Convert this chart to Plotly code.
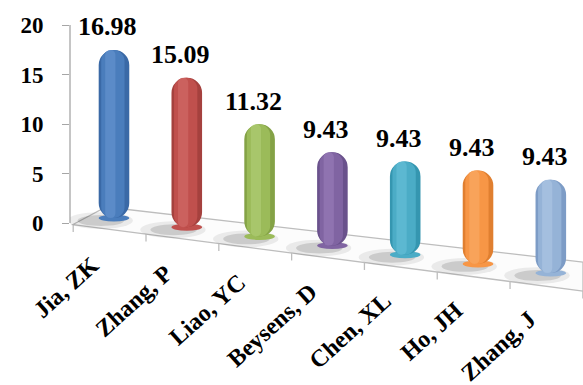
import plotly.graph_objects as go

# ---------------- data ----------------
authors = ["Jia, ZK", "Zhang, P", "Liao, YC", "Beysens, D", "Chen, XL", "Ho, JH", "Zhang, J"]
values = [16.98, 15.09, 11.32, 9.43, 9.43, 9.43, 9.43]
y_ticks = [0, 5, 10, 15, 20]

# ---------------- style ----------------
base_colors = ["#4A7DBC", "#C0504D", "#9BBB59", "#8064A2", "#4BACC6", "#F79646", "#95B3D7"]
dark_colors = ["#3A69A6", "#A5413E", "#84A246", "#6A528C", "#3596B0", "#E07F30", "#7D9CC6"]
light_colors = ["#6A98D2", "#D4706D", "#B3D07A", "#9A80BC", "#6CC2DA", "#FAAE6C", "#B0C8E6"]

FONT = "'Times New Roman', 'Liberation Serif', 'DejaVu Serif', serif"
n = len(values)
xs = list(range(n))

# pseudo-3D floor geometry (perspective slant)
BASE0 = 0.5
SLOPE = -0.926
bases = [BASE0 + SLOPE * i for i in xs]
FL = (-0.563, -0.15)   # front-left
BL = (-0.110, 1.62)    # back-left
BR = (6.442, -3.94)    # back-right
FR = (6.442, -6.87)    # front-right


def front_y(x):
    return FL[1] + (x - FL[0]) * (FR[1] - FL[1]) / (FR[0] - FL[0])


BAR_W = 0.42

fig = go.Figure()

# cylinder body (dark edges)
fig.add_trace(go.Bar(x=xs, y=values, base=bases, width=BAR_W,
                     marker=dict(color=dark_colors, cornerradius="50%", line_width=0),
                     hoverinfo="skip"))
# main colour
fig.add_trace(go.Bar(x=xs, y=values, base=bases, width=0.32, offset=-0.175,
                     marker=dict(color=base_colors, cornerradius="50%", line_width=0),
                     hoverinfo="skip"))
# soft highlight
fig.add_trace(go.Bar(x=xs, y=values, base=bases, width=0.14, offset=-0.12,
                     marker=dict(color=light_colors, cornerradius="50%", line_width=0, opacity=0.55),
                     hoverinfo="skip"))

shapes = []
# floor
shapes.append(dict(type="path", xref="x", yref="y", layer="below",
                   path=f"M {FL[0]},{FL[1]} L {BL[0]},{BL[1]} L {BR[0]},{BR[1]} L {FR[0]},{FR[1]} Z",
                   fillcolor="#FCFCFC", line=dict(color="#BDBDBD", width=1.3)))
# front-edge ticks
for k in range(n + 1):
    xb = k - 0.56
    yb = front_y(xb)
    shapes.append(dict(type="line", xref="x", yref="y", layer="below",
                       x0=xb, x1=xb, y0=yb, y1=yb - 0.75,
                       line=dict(color="#BDBDBD", width=1.3)))
# shadows and bottom ellipses
for i in xs:
    b = bases[i]
    shapes.append(dict(type="circle", xref="x", yref="y", layer="below",
                       x0=i - 0.64, x1=i + 0.26, y0=b - 1.1, y1=b + 0.6,
                       fillcolor="rgba(0,0,0,0.07)", line_width=0))
    shapes.append(dict(type="circle", xref="x", yref="y", layer="below",
                       x0=i - 0.50, x1=i + 0.14, y0=b - 0.8, y1=b + 0.3,
                       fillcolor="rgba(0,0,0,0.13)", line_width=0))
    shapes.append(dict(type="circle", xref="x", yref="y", layer="below",
                       x0=i - BAR_W / 2, x1=i + BAR_W / 2, y0=b - 0.35, y1=b + 0.35,
                       fillcolor=base_colors[i], line_width=0))
# y axis line
shapes.append(dict(type="line", xref="paper", yref="y", x0=0, x1=0, y0=min(y_ticks), y1=max(y_ticks),
                   line=dict(color="#A6A6A6", width=1.3)))

annotations = []
for i in xs:
    annotations.append(dict(x=i, y=bases[i] + values[i], xref="x", yref="y",
                            text=f"<b>{values[i]:.2f}</b>", showarrow=False,
                            xanchor="center", yanchor="middle", xshift=-6, yshift=23,
                            font=dict(family=FONT, size=26, color="black")))
    annotations.append(dict(x=i, y=bases[i], xref="x", yref="y",
                            text=f"<b>{authors[i]}</b>", showarrow=False, textangle=-42,
                            xanchor="right", yanchor="top", xshift=-7, yshift=-30,
                            font=dict(family=FONT, size=24, color="black")))

fig.update_layout(
    width=583, height=385,
    margin=dict(l=70, r=0, t=0, b=0),
    paper_bgcolor="white", plot_bgcolor="white",
    barmode="overlay", showlegend=False,
    font=dict(family=FONT),
    xaxis=dict(range=[-0.604, 6.442], visible=False),
    yaxis=dict(range=[-16.36, 22.53], tickvals=y_ticks, ticktext=[f"<b>{t}</b>" for t in y_ticks],
               ticks="outside", ticklen=7, tickcolor="#A6A6A6", tickwidth=1.3,
               showgrid=False, zeroline=False, showline=False, ticklabelstandoff=14,
               tickfont=dict(family=FONT, size=23, color="black")),
    shapes=shapes, annotations=annotations,
)

fig.write_html("out.html")
